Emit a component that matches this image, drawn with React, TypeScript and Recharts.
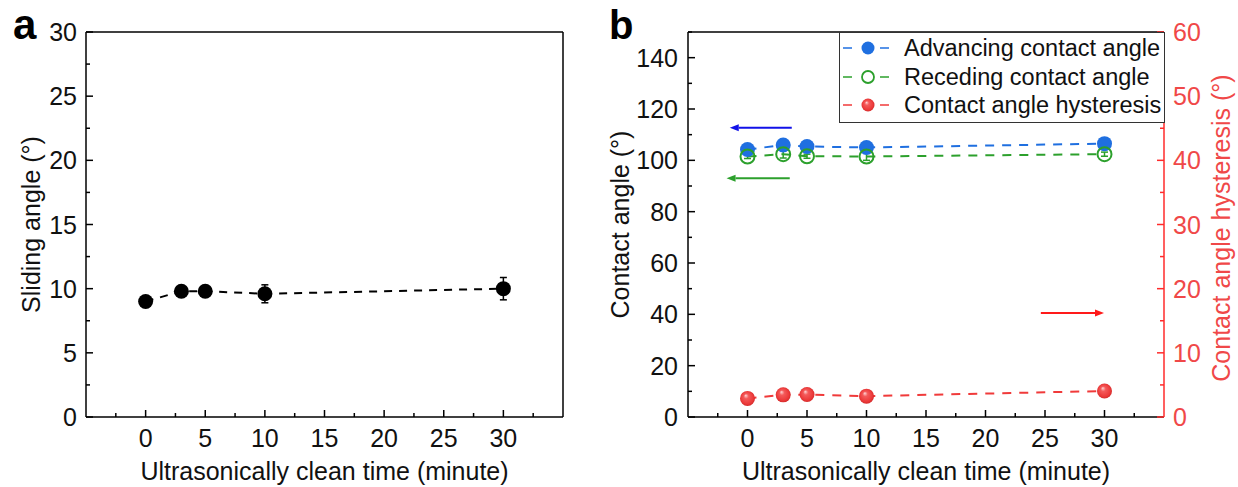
import React from "react";
import { LineChart, Line, XAxis, YAxis, ErrorBar, ReferenceLine } from "recharts";

// ---- data ----
const times = [0, 3, 5, 10, 30];

// panel a
const slidingAngle = [9.0, 9.8, 9.8, 9.6, 10.0];
const slidingErr = [0.2, 0.3, 0.3, 0.7, 0.87];

// panel b
const advancing = [104.2, 106.0, 105.4, 105.0, 106.5];
const advancingErr = [0.8, 0.8, 0.8, 0.8, 0.8];
const receding = [101.5, 102.4, 101.6, 101.5, 102.4];
const recedingErr = [0.8, 1.5, 0.8, 1.5, 0.8];
const hysteresis = [2.9, 3.45, 3.5, 3.25, 4.05];
const hysteresisErr = [0.3, 0.3, 0.3, 0.3, 0.3];

// ticks
const timeTicks = [-2.5, 0, 2.5, 5, 7.5, 10, 12.5, 15, 17.5, 20, 22.5, 25, 27.5, 30, 32.5];
const slidingTicks = [0, 2.5, 5, 7.5, 10, 12.5, 15, 17.5, 20, 22.5, 25, 27.5, 30];
const contactTicks = [0, 10, 20, 30, 40, 50, 60, 70, 80, 90, 100, 110, 120, 130, 140, 150];
const hysteresisTicks = [0, 5, 10, 15, 20, 25, 30, 35, 40, 45, 50, 55, 60];

// direction arrows in panel b (data units): tail -> head
const arrows = [
  { from: 3.72, to: -1.49, y: 112.7, axis: "left", color: "#1212e8" },
  { from: 3.55, to: -1.76, y: 93.0, axis: "left", color: "#2ca02c" },
  { from: 24.65, to: 29.96, y: 16.2, axis: "right", color: "#ff1a1a" },
];

const seriesB = [
  { key: "adv", name: "Advancing contact angle", color: "#1f6fe0", marker: "filled" },
  { key: "rec", name: "Receding contact angle", color: "#2ca02c", marker: "open" },
  { key: "hys", name: "Contact angle hysteresis", color: "#f03a3a", marker: "sphere" },
];

const dataA = times.map((t, i) => ({ t, sa: slidingAngle[i], saErr: slidingErr[i] }));
const dataB = times.map((t, i) => ({
  t,
  adv: advancing[i],
  advErr: advancingErr[i],
  rec: receding[i],
  recErr: recedingErr[i],
  hys: hysteresis[i],
  hysErr: hysteresisErr[i],
}));

const FONT = '"Liberation Sans", Arial, Helvetica, sans-serif';
const TICK_FS = 25;
const TITLE_FS = 25;
const RED_AXIS = "#ff2b2b";
const RED_TEXT = "#f04848";

type TickOpts = {
  side: "bottom" | "left" | "right";
  step: number;
  maxLabel?: number;
  color: string;
  textColor: string;
  gap: number;
};

const makeTick = (o: TickOpts) => (props: any) => {
  const { x, y, payload } = props;
  const v = payload.value;
  const major = Math.abs(v / o.step - Math.round(v / o.step)) < 1e-6 && (o.maxLabel === undefined || v <= o.maxLabel);
  const len = major ? 7 : 4;
  let line;
  let text = null;
  if (o.side === "bottom") {
    line = <line x1={x} y1={y} x2={x} y2={y - len} stroke={o.color} strokeWidth={1.5} />;
    if (major)
      text = (
        <text x={x} y={y + o.gap} textAnchor="middle" fontSize={TICK_FS} fill={o.textColor} fontFamily={FONT}>
          {v}
        </text>
      );
  } else if (o.side === "left") {
    line = <line x1={x} y1={y} x2={x + len} y2={y} stroke={o.color} strokeWidth={1.5} />;
    if (major)
      text = (
        <text x={x - o.gap} y={y} dy="0.36em" textAnchor="end" fontSize={TICK_FS} fill={o.textColor} fontFamily={FONT}>
          {v}
        </text>
      );
  } else {
    line = <line x1={x} y1={y} x2={x - len} y2={y} stroke={o.color} strokeWidth={1.5} />;
    if (major)
      text = (
        <text x={x + o.gap} y={y} dy="0.36em" textAnchor="start" fontSize={TICK_FS} fill={o.textColor} fontFamily={FONT}>
          {v}
        </text>
      );
  }
  return (
    <g>
      {line}
      {text}
    </g>
  );
};

const dotFilled = (color: string, r: number) => (p: any) =>
  <circle key={`f-${p.index}`} cx={p.cx} cy={p.cy} r={r} fill={color} />;
const dotOpen = (color: string, r: number) => (p: any) =>
  <circle key={`o-${p.index}`} cx={p.cx} cy={p.cy} r={r} fill="none" stroke={color} strokeWidth={2} />;
const dotSphere = (r: number) => (p: any) =>
  <circle key={`s-${p.index}`} cx={p.cx} cy={p.cy} r={r} fill="url(#redSphere)" />;

const arrowShape = (color: string) => (p: any) => {
  const { x1, y1, x2, y2 } = p;
  const dir = x2 > x1 ? 1 : -1;
  const head = 9;
  return (
    <g>
      <line x1={x1} y1={y1} x2={x2 - dir * head} y2={y2} stroke={color} strokeWidth={2} />
      <polygon points={`${x2},${y2} ${x2 - dir * head},${y2 - 3.5} ${x2 - dir * head},${y2 + 3.5}`} fill={color} />
    </g>
  );
};

function LegendB() {
  const rows = [48, 77, 105];
  return (
    <svg width={326} height={91} style={{ position: "absolute", left: 839, top: 31.5 }}>
      <rect x={0.5} y={0.5} width={325} height={90} fill="#fff" stroke="#333" strokeWidth={1} />
      {seriesB.map((s, i) => {
        const cy = rows[i] - 32;
        return (
          <g key={s.key}>
            <line x1={4} x2={13} y1={cy} y2={cy} stroke={s.color} strokeWidth={1.5} />
            <line x1={41} x2={50} y1={cy} y2={cy} stroke={s.color} strokeWidth={1.5} />
            {s.marker === "filled" && <circle cx={29} cy={cy} r={6.5} fill={s.color} />}
            {s.marker === "open" && <circle cx={29} cy={cy} r={6} fill="#fff" stroke={s.color} strokeWidth={1.8} />}
            {s.marker === "sphere" && <circle cx={29} cy={cy} r={6.5} fill="url(#redSphere)" />}
            <text x={65} y={cy} dy="0.36em" fontSize={23.5} fontFamily={FONT} fill="#111">
              {s.name}
            </text>
          </g>
        );
      })}
    </svg>
  );
}

export default function App() {
  return (
    <div style={{ position: "absolute", left: 0, top: 0, width: 1238, height: 487, background: "#fff", fontFamily: FONT }}>
      <svg width={0} height={0} style={{ position: "absolute" }}>
        <defs>
          <radialGradient id="redSphere" cx="50%" cy="50%" r="55%" fx="38%" fy="30%">
            <stop offset="0%" stopColor="#ffd6d6" />
            <stop offset="30%" stopColor="#f45a5a" />
            <stop offset="75%" stopColor="#ec3a3a" />
            <stop offset="100%" stopColor="#cc2626" />
          </radialGradient>
        </defs>
      </svg>

      {/* panel a */}
      <div style={{ position: "absolute", left: 0, top: 0 }}>
        <LineChart width={600} height={487} data={dataA} margin={{ top: 32, right: 37, bottom: 0, left: 0 }}>
          <XAxis
            dataKey="t"
            type="number"
            domain={[-5, 35]}
            ticks={timeTicks}
            interval={0}
            height={70}
            tickSize={0}
            tickMargin={0}
            tickLine={false}
            axisLine={{ stroke: "#000", strokeWidth: 1.5 }}
            tick={makeTick({ side: "bottom", step: 5, color: "#000", textColor: "#111", gap: 30 })}
          />
          <YAxis
            type="number"
            domain={[0, 30]}
            ticks={slidingTicks}
            interval={0}
            width={86}
            tickSize={0}
            tickMargin={0}
            tickLine={false}
            axisLine={{ stroke: "#000", strokeWidth: 1.5 }}
            tick={makeTick({ side: "left", step: 5, color: "#000", textColor: "#111", gap: 9 })}
          />
          {/* frame: top and right edges */}
          <ReferenceLine y={30} stroke="#000" strokeWidth={1.5} ifOverflow="visible" />
          <ReferenceLine x={35} stroke="#000" strokeWidth={1.5} ifOverflow="visible" />
          <Line
            dataKey="sa"
            stroke="#000"
            strokeWidth={2}
            strokeDasharray="8 7"
            dot={dotFilled("#000", 7.5)}
            activeDot={false}
            isAnimationActive={false}
          >
            <ErrorBar dataKey="saErr" direction="y" width={3.5} stroke="#000" strokeWidth={1.5} />
          </Line>
        </LineChart>
      </div>

      {/* panel b */}
      <div style={{ position: "absolute", left: 600, top: 0 }}>
        <LineChart width={638} height={487} data={dataB} margin={{ top: 32, right: 0, bottom: 0, left: 0 }}>
          <XAxis
            dataKey="t"
            type="number"
            domain={[-5, 35]}
            ticks={timeTicks}
            interval={0}
            height={70}
            tickSize={0}
            tickMargin={0}
            tickLine={false}
            axisLine={{ stroke: "#000", strokeWidth: 1.5 }}
            tick={makeTick({ side: "bottom", step: 5, color: "#000", textColor: "#111", gap: 30 })}
          />
          <YAxis
            yAxisId="left"
            type="number"
            domain={[0, 150]}
            ticks={contactTicks}
            interval={0}
            width={88}
            tickSize={0}
            tickMargin={0}
            tickLine={false}
            axisLine={{ stroke: "#000", strokeWidth: 1.5 }}
            tick={makeTick({ side: "left", step: 20, maxLabel: 140, color: "#000", textColor: "#111", gap: 10 })}
          />
          <YAxis
            yAxisId="right"
            orientation="right"
            type="number"
            domain={[0, 60]}
            ticks={hysteresisTicks}
            interval={0}
            width={74}
            tickSize={0}
            tickMargin={0}
            tickLine={false}
            axisLine={{ stroke: RED_AXIS, strokeWidth: 1.5 }}
            tick={makeTick({ side: "right", step: 10, color: RED_AXIS, textColor: RED_TEXT, gap: 9 })}
          />
          {/* frame: top edge */}
          <ReferenceLine yAxisId="left" y={150} stroke="#000" strokeWidth={1.5} ifOverflow="visible" />
          {arrows.map((a, i) => (
            <ReferenceLine
              key={`arrow-${i}`}
              yAxisId={a.axis}
              segment={[
                { x: a.from, y: a.y },
                { x: a.to, y: a.y },
              ]}
              stroke={a.color}
              shape={arrowShape(a.color)}
            />
          ))}
          <Line
            yAxisId="left"
            dataKey="adv"
            stroke={seriesB[0].color}
            strokeWidth={2}
            strokeDasharray="9 8"
            dot={dotFilled(seriesB[0].color, 7.5)}
            activeDot={false}
            isAnimationActive={false}
          >
            <ErrorBar dataKey="advErr" direction="y" width={3.5} stroke={seriesB[0].color} strokeWidth={1.5} />
          </Line>
          <Line
            yAxisId="left"
            dataKey="rec"
            stroke={seriesB[1].color}
            strokeWidth={2}
            strokeDasharray="9 8"
            dot={dotOpen(seriesB[1].color, 7)}
            activeDot={false}
            isAnimationActive={false}
          >
            <ErrorBar dataKey="recErr" direction="y" width={3.5} stroke={seriesB[1].color} strokeWidth={1.5} />
          </Line>
          <Line
            yAxisId="right"
            dataKey="hys"
            stroke={seriesB[2].color}
            strokeWidth={2}
            strokeDasharray="9 8"
            dot={dotSphere(7.5)}
            activeDot={false}
            isAnimationActive={false}
          >
            <ErrorBar dataKey="hysErr" direction="y" width={3.5} stroke="#ffe0e0" strokeWidth={1.2} />
          </Line>
        </LineChart>
      </div>

      <LegendB />

      {/* panel letters and axis titles */}
      <svg width={1238} height={487} style={{ position: "absolute", left: 0, top: 0, pointerEvents: "none" }}>
        <text x={13} y={39} fontSize={42} fontWeight="bold" fontFamily={FONT} fill="#000">a</text>
        <text x={609} y={39} fontSize={40} fontWeight="bold" fontFamily={FONT} fill="#000">b</text>

        <text x={324.5} y={480} textAnchor="middle" fontSize={TITLE_FS} fontFamily={FONT} fill="#111">
          Ultrasonically clean time (minute)
        </text>
        <text x={926} y={480} textAnchor="middle" fontSize={TITLE_FS} fontFamily={FONT} fill="#111">
          Ultrasonically clean time (minute)
        </text>

        <text x={31} y={224.5} dy="0.36em" transform="rotate(-90 31 224.5)" textAnchor="middle" fontSize={TITLE_FS} fontFamily={FONT} fill="#111">
          Sliding angle (°)
        </text>
        <text x={620} y={224.5} dy="0.36em" transform="rotate(-90 620 224.5)" textAnchor="middle" fontSize={TITLE_FS} fontFamily={FONT} fill="#111">
          Contact angle (°)
        </text>
        <text x={1221} y={228} dy="0.36em" transform="rotate(-90 1221 228)" textAnchor="middle" fontSize={TITLE_FS} fontFamily={FONT} fill={RED_TEXT}>
          Contact angle hysteresis (°)
        </text>
      </svg>
    </div>
  );
}
